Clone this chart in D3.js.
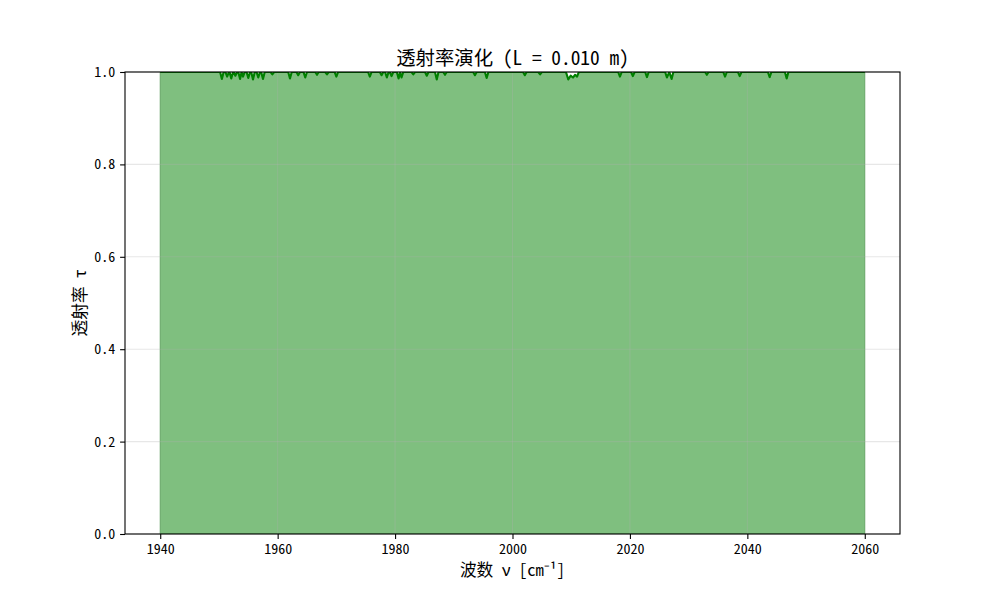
<!DOCTYPE html>
<html>
<head>
<meta charset="utf-8">
<script src="https://cdn.jsdelivr.net/npm/d3@7"></script>
<style>
  body { margin: 0; background: #fff; }
  text { font-family: "Noto Sans Mono CJK SC", "Noto Sans CJK SC", sans-serif; }
</style>
</head>
<body>
<svg id="chart" width="1000" height="600"></svg>
<script>
// transmittance spectrum: [wavenumber, tau]
var spectrum = [
  [1940, 1],
  [1950.2, 1], [1950.5, 0.985], [1950.8, 1],
  [1951.1, 1], [1951.4, 0.990], [1951.7, 1],
  [1951.8, 1], [1952.1, 0.986], [1952.4, 1],
  [1952.5, 1], [1952.8, 0.992], [1953.1, 1],
  [1953.3, 1], [1953.6, 0.985], [1953.85, 1], [1954.1, 0.990], [1954.4, 1],
  [1954.7, 1], [1955.0, 0.987], [1955.3, 1],
  [1955.5, 1], [1955.8, 0.984], [1956.1, 1],
  [1956.4, 1], [1956.7, 0.988], [1957.0, 1],
  [1957.2, 1], [1957.5, 0.985], [1957.8, 1],
  [1958.8, 1], [1959.1, 0.995], [1959.4, 1],
  [1961.8, 1], [1962.1, 0.986], [1962.4, 1],
  [1963.2, 1], [1963.5, 0.993], [1963.8, 1],
  [1964.4, 1], [1964.7, 0.988], [1965.0, 1],
  [1966.4, 1], [1966.7, 0.994], [1967.0, 1],
  [1968.1, 1], [1968.4, 0.995], [1968.7, 1],
  [1969.7, 1], [1970.0, 0.990], [1970.3, 1],
  [1975.4, 1], [1975.7, 0.990], [1976.0, 1],
  [1977.4, 1], [1977.7, 0.993], [1978.0, 1],
  [1978.3, 1], [1978.6, 0.988], [1978.9, 1],
  [1979.1, 1], [1979.4, 0.991], [1979.7, 1],
  [1980.3, 1], [1980.6, 0.986], [1980.85, 1], [1981.1, 0.988], [1981.4, 1],
  [1982.8, 1], [1983.1, 0.995], [1983.4, 1],
  [1985.1, 1], [1985.4, 0.992], [1985.7, 1],
  [1986.8, 1], [1987.1, 0.984], [1987.4, 1],
  [1988.2, 1], [1988.5, 0.994], [1988.8, 1],
  [1993.3, 1], [1993.6, 0.993], [1993.9, 1],
  [1995.3, 1], [1995.6, 0.987], [1995.9, 1],
  [2001.8, 1], [2002.1, 0.993], [2002.4, 1],
  [2004.4, 1], [2004.7, 0.995], [2005.0, 1],
  [2009.1, 1], [2009.5, 0.984], [2009.9, 0.992], [2010.3, 0.988], [2010.65, 0.994], [2011.0, 0.990], [2011.3, 1],
  [2018.0, 1], [2018.3, 0.990], [2018.6, 1],
  [2020.2, 1], [2020.5, 0.991], [2020.8, 1],
  [2022.6, 1], [2022.9, 0.989], [2023.2, 1],
  [2026.0, 1], [2026.3, 0.988], [2026.7, 1], [2027.1, 0.985], [2027.4, 1],
  [2032.8, 1], [2033.1, 0.994], [2033.4, 1],
  [2035.9, 1], [2036.2, 0.990], [2036.5, 1],
  [2038.4, 1], [2038.7, 0.991], [2039.0, 1],
  [2043.5, 1], [2043.8, 0.989], [2044.1, 1],
  [2046.4, 1], [2046.7, 0.986], [2047.0, 1],
  [2060, 1]
];
var xTicks = [1940, 1960, 1980, 2000, 2020, 2040, 2060];
var yTicks = [0.0, 0.2, 0.4, 0.6, 0.8, 1.0];
var xDomain = [1934, 2066];
var yDomain = [0, 1];
var titleText = "透射率演化 (L = 0.010 m)";
var xLabel = "波数 ν [cm⁻¹]";
var yLabel = "透射率 τ";

var svg = d3.select("#chart");
var margin = {top: 72, right: 100, bottom: 66, left: 125};
var width = +svg.attr("width") - margin.left - margin.right;
var height = +svg.attr("height") - margin.top - margin.bottom;
var g = svg.append("g").attr("transform", "translate(" + margin.left + "," + margin.top + ")");

var x = d3.scaleLinear().domain(xDomain).range([0, width]);
var y = d3.scaleLinear().domain(yDomain).range([height, 0]);

g.append("clipPath").attr("id", "clip")
  .append("rect").attr("width", width).attr("height", height);

var area = d3.area()
  .x(function(d) { return x(d[0]); })
  .y0(y(0))
  .y1(function(d) { return y(d[1]); });

var line = d3.line()
  .x(function(d) { return x(d[0]); })
  .y(function(d) { return y(d[1]); });

g.append("path")
  .datum(spectrum)
  .attr("clip-path", "url(#clip)")
  .attr("d", area)
  .attr("fill", "#008000")
  .attr("fill-opacity", 0.5)
  .attr("stroke", "#008000")
  .attr("stroke-opacity", 0.5)
  .attr("stroke-width", 1);

// grid
g.append("g").selectAll("line").data(xTicks).enter().append("line")
  .attr("x1", function(d) { return x(d); }).attr("x2", function(d) { return x(d); })
  .attr("y1", 0).attr("y2", height)
  .attr("stroke", "#b0b0b0").attr("stroke-opacity", 0.3).attr("stroke-width", 1.1);
g.append("g").selectAll("line").data(yTicks).enter().append("line")
  .attr("y1", function(d) { return y(d); }).attr("y2", function(d) { return y(d); })
  .attr("x1", 0).attr("x2", width)
  .attr("stroke", "#b0b0b0").attr("stroke-opacity", 0.3).attr("stroke-width", 1.1);

g.append("path")
  .datum(spectrum)
  .attr("clip-path", "url(#clip)")
  .attr("d", line)
  .attr("fill", "none")
  .attr("stroke", "#008000")
  .attr("stroke-width", 2.1)
  .attr("stroke-linejoin", "round");

// axes
var xAxis = g.append("g")
  .attr("transform", "translate(0," + height + ")")
  .call(d3.axisBottom(x).tickValues(xTicks).tickFormat(d3.format("d")).tickSize(4.9).tickSizeOuter(0).tickPadding(4.9));
var yAxis = g.append("g")
  .call(d3.axisLeft(y).tickValues(yTicks).tickFormat(d3.format(".1f")).tickSize(4.9).tickSizeOuter(0).tickPadding(4.9));
[xAxis, yAxis].forEach(function(a) {
  a.select(".domain").remove();
  a.selectAll(".tick line").attr("stroke", "#000").attr("stroke-width", 1.1);
  a.selectAll(".tick text").attr("fill", "#000").attr("font-size", 14)
    .style("font-family", "'Noto Sans Mono CJK SC', 'Noto Sans CJK SC', sans-serif");
});

g.append("rect")
  .attr("width", width).attr("height", height)
  .attr("fill", "none").attr("stroke", "#000").attr("stroke-width", 1.1);

svg.append("text")
  .attr("x", margin.left + width / 2).attr("y", 65)
  .attr("text-anchor", "middle").attr("font-size", 19.4)
  .text(titleText);

svg.append("text")
  .attr("x", margin.left + width / 2).attr("y", 576)
  .attr("text-anchor", "middle").attr("font-size", 16.7)
  .text(xLabel);

svg.append("text")
  .attr("transform", "translate(80," + (margin.top + height / 2) + ") rotate(-90)")
  .attr("text-anchor", "middle").attr("dy", "0.35em").attr("font-size", 16.7)
  .text(yLabel);
</script>
</body>
</html>
